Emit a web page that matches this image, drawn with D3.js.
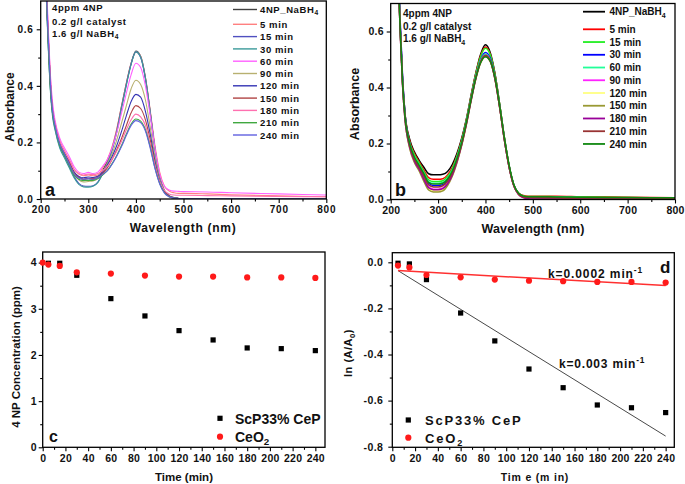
<!DOCTYPE html>
<html><head><meta charset="utf-8">
<script src="https://cdn.jsdelivr.net/npm/d3@7"></script>
<style>
body{margin:0;background:#fff}
svg{display:block}
text{font-family:"Liberation Sans",Arial,sans-serif;font-weight:bold;fill:#111}
</style></head>
<body><svg id="c" width="685" height="484"></svg>
<script>
// ---------- DATA ----------
const WL = [205,210,215,220,225,230,240,250,260,270,280,290,300,310,320,330,340,350,360,370,380,390,400,410,420,430,440,450,460,470,480,490,500,550,600,700,800];
const seriesNames = ["4NP_NaBH4","5 min","15 min","30 min","60 min","90 min","120 min","150 min","180 min","210 min","240 min"];

// panel a absorbance
const A_4NP = [1.0,0.82,0.6,0.42,0.31,0.26,0.195,0.16,0.13,0.095, 0.078,0.07,0.072,0.07,0.074, 0.10,0.135,0.18,0.245,0.33,0.41,0.48,0.523,0.505,0.43,0.31,0.18,0.08,0.03,0.012,0.005,0.002, 0.001,0.001,0.001,0.001,0.001];
const A_5   = [1.0,0.84,0.62,0.43,0.32,0.27,0.205,0.17,0.14,0.105, 0.088,0.082,0.085,0.082,0.085, 0.11,0.14,0.185,0.25,0.33,0.41,0.48,0.52,0.505,0.43,0.315,0.19,0.095,0.045,0.028,0.022,0.02, 0.02,0.018,0.015,0.011,0.008];
const A_15  = [1.0,0.8,0.58,0.4,0.3,0.25,0.185,0.15,0.115,0.08, 0.055,0.046,0.045,0.047,0.06, 0.09,0.125,0.175,0.24,0.325,0.405,0.478,0.52,0.5,0.425,0.305,0.175,0.075,0.028,0.01,0.004,0.002, 0.001,0.001,0.001,0.001,0.001];
const A_30  = [0.98,0.79,0.57,0.39,0.29,0.245,0.18,0.145,0.11,0.075, 0.052,0.043,0.042,0.045,0.058, 0.088,0.123,0.172,0.238,0.322,0.403,0.476,0.52,0.502,0.427,0.307,0.177,0.076,0.028,0.01,0.004,0.002, 0.001,0.001,0.001,0.001,0.001];
const A_60  = [1.0,0.86,0.64,0.45,0.34,0.28,0.215,0.18,0.15,0.115, 0.095,0.09,0.094,0.09,0.095, 0.115,0.14,0.18,0.235,0.305,0.375,0.44,0.48,0.465,0.4,0.295,0.18,0.09,0.045,0.032,0.028,0.027, 0.026,0.025,0.022,0.018,0.014];
const A_90  = [1.0,0.82,0.6,0.42,0.31,0.26,0.195,0.16,0.125,0.09, 0.068,0.06,0.062,0.064,0.072, 0.095,0.125,0.16,0.21,0.27,0.33,0.39,0.42,0.405,0.35,0.255,0.15,0.07,0.028,0.01,0.004,0.002, 0.001,0.001,0.001,0.001,0.001];
const A_120 = [1.0,0.82,0.6,0.42,0.31,0.26,0.195,0.16,0.13,0.095, 0.08,0.075,0.078,0.076,0.08, 0.095,0.12,0.15,0.19,0.24,0.295,0.345,0.37,0.36,0.31,0.23,0.135,0.065,0.026,0.01,0.004,0.002, 0.001,0.001,0.001,0.001,0.001];
const A_150 = [1.0,0.82,0.6,0.42,0.31,0.26,0.195,0.16,0.13,0.093, 0.076,0.07,0.073,0.072,0.076, 0.09,0.11,0.14,0.175,0.215,0.26,0.305,0.33,0.32,0.28,0.21,0.125,0.06,0.025,0.01,0.004,0.002, 0.001,0.001,0.001,0.001,0.001];
const A_180 = [1.0,0.84,0.62,0.44,0.32,0.27,0.205,0.17,0.14,0.105, 0.09,0.085,0.088,0.086,0.09, 0.1,0.115,0.14,0.17,0.205,0.245,0.28,0.3,0.29,0.26,0.195,0.12,0.062,0.03,0.018,0.014,0.013, 0.013,0.012,0.011,0.009,0.008];
const A_210 = [0.98,0.8,0.58,0.4,0.3,0.255,0.19,0.155,0.12,0.085, 0.07,0.065,0.066,0.066,0.072, 0.085,0.1,0.125,0.155,0.19,0.23,0.265,0.283,0.275,0.245,0.185,0.11,0.055,0.022,0.008,0.003,0.002, 0.001,0.001,0.001,0.001,0.001];
const A_240 = [1.0,0.82,0.6,0.42,0.31,0.26,0.195,0.16,0.125,0.09, 0.074,0.07,0.072,0.07,0.075, 0.087,0.1,0.123,0.152,0.186,0.225,0.26,0.277,0.27,0.24,0.18,0.108,0.053,0.021,0.008,0.003,0.002, 0.001,0.001,0.001,0.001,0.001];

// panel b absorbance
const B_4NP = [1.2,1.0,0.85,0.62,0.43,0.31,0.215,0.17,0.14,0.115, 0.092,0.088,0.088,0.09,0.1, 0.125,0.165,0.22,0.29,0.375,0.455,0.52,0.553,0.525,0.45,0.34,0.22,0.12,0.05,0.022,0.012,0.01, 0.01,0.009,0.008,0.006,0.005];
const B_5   = [1.2,1.0,0.85,0.62,0.43,0.31,0.21,0.165,0.135,0.105, 0.078,0.072,0.072,0.074,0.088, 0.115,0.158,0.215,0.287,0.372,0.452,0.515,0.545,0.52,0.447,0.338,0.218,0.118,0.05,0.022,0.014,0.012, 0.012,0.012,0.01,0.008,0.006];
const B_15  = [1.2,1.0,0.85,0.61,0.42,0.305,0.205,0.16,0.13,0.1, 0.07,0.064,0.064,0.067,0.082, 0.11,0.155,0.212,0.285,0.37,0.45,0.512,0.54,0.518,0.447,0.34,0.22,0.12,0.052,0.022,0.013,0.011, 0.011,0.01,0.009,0.007,0.006];
const B_30  = [1.2,1.0,0.87,0.64,0.44,0.31,0.2,0.15,0.12,0.09, 0.058,0.05,0.05,0.053,0.07, 0.1,0.147,0.205,0.278,0.362,0.44,0.5,0.525,0.505,0.437,0.333,0.215,0.117,0.05,0.02,0.01,0.008, 0.008,0.007,0.006,0.005,0.004];
const B_60  = [1.2,1.0,0.85,0.61,0.42,0.3,0.2,0.155,0.125,0.095, 0.064,0.058,0.058,0.061,0.076, 0.105,0.15,0.207,0.28,0.364,0.442,0.498,0.52,0.5,0.435,0.332,0.215,0.117,0.05,0.021,0.011,0.009, 0.009,0.008,0.007,0.006,0.005];
const B_90  = [1.2,1.0,0.84,0.6,0.41,0.29,0.19,0.14,0.11,0.075, 0.045,0.037,0.037,0.041,0.058, 0.09,0.138,0.198,0.272,0.358,0.437,0.493,0.515,0.497,0.432,0.33,0.213,0.115,0.048,0.018,0.007,0.004, 0.003,0.003,0.002,0.002,0.002];
const B_120 = [1.2,1.0,0.84,0.6,0.41,0.29,0.185,0.135,0.105,0.068, 0.038,0.03,0.03,0.034,0.052, 0.085,0.134,0.195,0.27,0.355,0.433,0.489,0.51,0.493,0.43,0.328,0.212,0.115,0.048,0.018,0.008,0.006, 0.006,0.006,0.005,0.004,0.004];
const B_150 = [1.2,1.0,0.84,0.6,0.41,0.29,0.183,0.132,0.102,0.065, 0.034,0.027,0.027,0.031,0.05, 0.083,0.132,0.194,0.27,0.355,0.433,0.489,0.51,0.493,0.43,0.328,0.212,0.115,0.048,0.018,0.008,0.005, 0.005,0.005,0.004,0.004,0.003];
const B_180 = [1.2,1.0,0.84,0.6,0.41,0.29,0.188,0.138,0.108,0.072, 0.042,0.035,0.035,0.039,0.056, 0.088,0.136,0.197,0.272,0.357,0.435,0.491,0.512,0.495,0.431,0.329,0.212,0.115,0.048,0.018,0.007,0.003, 0.002,0.002,0.002,0.002,0.002];
const B_210 = [1.2,1.0,0.85,0.61,0.42,0.3,0.195,0.145,0.115,0.083, 0.052,0.045,0.045,0.049,0.065, 0.096,0.142,0.2,0.275,0.36,0.438,0.494,0.515,0.497,0.433,0.33,0.213,0.116,0.049,0.02,0.009,0.007, 0.007,0.006,0.005,0.005,0.004];
const B_240 = [1.2,1.0,0.85,0.61,0.42,0.3,0.2,0.152,0.122,0.092, 0.061,0.055,0.055,0.058,0.073, 0.102,0.147,0.204,0.277,0.36,0.437,0.49,0.51,0.495,0.435,0.335,0.22,0.122,0.053,0.022,0.012,0.01, 0.01,0.009,0.008,0.007,0.006];

const colorsA = ["#404040","#ff8080","#5050c0","#3a9a9a","#ff60ff","#b8b070","#3434b4","#b04444","#ff70b0","#40a840","#6060e0"];
const colorsB = ["#000000","#ff0000","#22ee22","#0000ff","#22ff99","#ff22ff","#ffff80","#999933","#990099","#993333","#118811"];

const wlTicks = [200,300,400,500,600,700,800];
const absTicks = [0.0,0.2,0.4,0.6];

// panel c: concentration (ppm)
const timeSc = [5,15,30,60,90,120,150,180,210,240];
const concSc = [3.986,3.986,3.726,3.22,2.845,2.527,2.325,2.152,2.137,2.094];
const timeCe = [0,5,15,30,60,90,120,150,180,210,240];
const concCe = [4.0,3.957,3.928,3.79,3.762,3.72,3.697,3.697,3.68,3.68,3.668];
const timeTicks = [0,20,40,60,80,100,120,140,160,180,200,220,240];
const concTicks = [0,1,2,3,4];

// panel d: ln(A/A0)
const timeD = [5,15,30,60,90,120,150,180,210,240];
const lnSc = [-0.004,-0.007,-0.075,-0.22,-0.341,-0.463,-0.544,-0.619,-0.631,-0.652];
const lnCe = [-0.014,-0.022,-0.055,-0.065,-0.075,-0.08,-0.082,-0.085,-0.085,-0.088];
const fitT = [5,240];
const fitSc = [-0.036,-0.754];
const fitCe = [-0.036,-0.101];
const lnTicks = [0.0,-0.2,-0.4,-0.6,-0.8];

// ---------- DRAW ----------
const svg = d3.select("#c");

function styleAxis(sel, fs, ls){
  sel.select(".domain").remove();
  sel.selectAll("line").attr("stroke","#000").attr("stroke-width",1.1);
  sel.selectAll("text").attr("font-size",fs).attr("letter-spacing",ls).attr("fill","#111")
     .attr("font-family","'Liberation Sans',Arial,sans-serif").attr("font-weight","bold");
}

function richText(g, x, y, parts, opt){
  const t = g.append("text").attr("x",x).attr("y",y)
    .attr("font-size",opt.fs).attr("letter-spacing",opt.ls||0)
    .attr("fill",opt.fill||"#111");
  if(opt.anchor) t.attr("text-anchor",opt.anchor);
  if(opt.rotate) t.attr("transform",`rotate(-90,${x},${y})`);
  parts.forEach(p=>{
    const [s,kind] = Array.isArray(p)?p:[p,null];
    const ts = t.append("tspan").text(s);
    if(kind==="sub") ts.attr("font-size",opt.fs*0.7).attr("dy",opt.fs*0.25);
    else if(kind==="sup") ts.attr("font-size",opt.fs*0.7).attr("dy",-opt.fs*0.4);
    else if(kind==="back") ts.attr("dy",-opt.fs*0.25);
    else if(kind==="backsup") ts.attr("dy",opt.fs*0.4);
  });
  return t;
}

function spectra(o){
  const g = svg.append("g");
  const x = d3.scaleLinear().domain([200,800]).range([o.x0,o.x1]);
  const y = d3.scaleLinear().domain([0,0.7]).range([o.y0,o.y1]);
  g.append("clipPath").attr("id",o.id).append("rect")
    .attr("x",o.x0).attr("y",o.y1).attr("width",o.x1-o.x0).attr("height",o.y0-o.y1);
  const line = d3.line().x((d,i)=>x(WL[i])).y(d=>y(d)).curve(d3.curveMonotoneX);
  const pg = g.append("g").attr("clip-path",`url(#${o.id})`);
  o.series.forEach((s,i)=>{
    pg.append("path").attr("d",line(s)).attr("fill","none")
      .attr("stroke",o.colors[i]).attr("stroke-width",o.lw);
  });
  // axes
  const xa = g.append("g").attr("transform",`translate(0,${o.y0})`)
    .call(d3.axisBottom(x).tickValues(wlTicks).tickSize(4).tickPadding(3).tickFormat(d3.format("d")));
  styleAxis(xa,o.tfs,o.tls);
  const xm = g.append("g").attr("transform",`translate(0,${o.y0})`)
    .call(d3.axisBottom(x).tickValues([250,350,450,550,650,750]).tickSize(2.5).tickFormat(""));
  styleAxis(xm,o.tfs,0);
  const ya = g.append("g").attr("transform",`translate(${o.x0},0)`)
    .call(d3.axisLeft(y).tickValues(absTicks).tickSize(4).tickPadding(3).tickFormat(d3.format(".1f")));
  styleAxis(ya,o.tfs,o.tls);
  const ym = g.append("g").attr("transform",`translate(${o.x0},0)`)
    .call(d3.axisLeft(y).tickValues([0.1,0.3,0.5]).tickSize(2.5).tickFormat(""));
  styleAxis(ym,o.tfs,0);
  g.append("rect").attr("x",o.x0).attr("y",o.y1).attr("width",o.x1-o.x0).attr("height",o.y0-o.y1)
    .attr("fill","none").attr("stroke","#000").attr("stroke-width",1.3);
  // legend
  seriesNames.forEach((n,i)=>{
    const ly = i===0 ? o.leg.y0 : o.leg.y1 + (i-1)*o.leg.dy;
    g.append("line").attr("x1",o.leg.lx0).attr("x2",o.leg.lx1).attr("y1",ly).attr("y2",ly)
      .attr("stroke",o.colors[i]).attr("stroke-width",o.lw+0.3);
    const parts = i===0 ? ["4NP_NaBH",["4","sub"]] : [n];
    richText(g,o.leg.tx,ly+3.6,parts,{fs:o.lfs,ls:o.lls});
  });
  // annotation
  richText(g,o.ann.x,o.ann.y[0],["4ppm 4NP"],{fs:o.lfs,ls:o.lls});
  richText(g,o.ann.x,o.ann.y[1],["0.2 g/l catalyst"],{fs:o.lfs,ls:o.lls});
  richText(g,o.ann.x,o.ann.y[2],["1.6 g/l NaBH",["4","sub"]],{fs:o.lfs,ls:o.lls});
  // titles
  richText(g,o.yt.x,o.yt.y,["Absorbance"],{fs:o.afs,anchor:"middle",rotate:true});
  richText(g,o.xt.x,o.xt.y,["Wavelength (nm)"],{fs:o.afs,anchor:"middle",ls:o.als});
  richText(g,o.lab.x,o.lab.y,[o.lab.t],{fs:18});
}

spectra({id:"clipA",x0:40.7,x1:326.3,y0:199,y1:1,series:[A_4NP,A_5,A_15,A_30,A_60,A_90,A_120,A_150,A_180,A_210,A_240],
  colors:colorsA,lw:1.1,tfs:10,tls:0.8,lfs:9.5,lls:0.6,afs:12,als:0.7,
  leg:{y0:9.5,y1:24.3,dy:12.3,lx0:233,lx1:257,tx:260},
  ann:{x:52,y:[11,24.5,37]},
  yt:{x:14,y:107},xt:{x:183,y:232},lab:{x:45,y:196,t:"a"}});

spectra({id:"clipB",x0:390.7,x1:675,y0:199.5,y1:3.5,series:[B_4NP,B_5,B_15,B_30,B_60,B_90,B_120,B_150,B_180,B_210,B_240],
  colors:colorsB,lw:1.5,tfs:10.5,tls:0.2,lfs:10,lls:0,afs:12.5,als:0.2,
  leg:{y0:11.7,y1:29.3,dy:12.74,lx0:583,lx1:605,tx:609.5},
  ann:{x:403,y:[17,29.5,42]},
  yt:{x:359,y:104},xt:{x:533,y:233},lab:{x:395,y:196,t:"b"}});

// ----- panel c -----
(function(){
  const g = svg.append("g");
  const x0=42.7,x1=325,y0=447.3,y1=252;
  const x = d3.scaleLinear().domain([0,248.5]).range([x0,x1]);
  const y = d3.scaleLinear().domain([0,4.23]).range([y0,y1]);
  const xa = g.append("g").attr("transform",`translate(0,${y0})`)
    .call(d3.axisBottom(x).tickValues(timeTicks).tickSize(4).tickPadding(3).tickFormat(d3.format("d")));
  styleAxis(xa,10.5,0.2);
  const xm = g.append("g").attr("transform",`translate(0,${y0})`)
    .call(d3.axisBottom(x).tickValues(d3.range(10,250,20)).tickSize(2.5).tickFormat(""));
  styleAxis(xm,10,0);
  const ya = g.append("g").attr("transform",`translate(${x0},0)`)
    .call(d3.axisLeft(y).tickValues(concTicks).tickSize(4).tickPadding(2).tickFormat(d3.format("d")));
  styleAxis(ya,10.5,0);
  const ym = g.append("g").attr("transform",`translate(${x0},0)`)
    .call(d3.axisLeft(y).tickValues([0.5,1.5,2.5,3.5]).tickSize(2.5).tickFormat(""));
  styleAxis(ym,10,0);
  g.append("rect").attr("x",x0).attr("y",y1).attr("width",x1-x0).attr("height",y0-y1)
    .attr("fill","none").attr("stroke","#000").attr("stroke-width",1.3);
  g.selectAll(".sq").data(timeSc).enter().append("rect")
    .attr("x",(d)=>x(d)-2.6).attr("y",(d,i)=>y(concSc[i])-2.6).attr("width",5.2).attr("height",5.2).attr("fill","#000");
  g.selectAll(".ci").data(timeCe).enter().append("circle")
    .attr("cx",d=>x(d)).attr("cy",(d,i)=>y(concCe[i])).attr("r",3.1).attr("fill","#ff1a1a");
  // legend
  g.append("rect").attr("x",217.4).attr("y",415.7).attr("width",5.2).attr("height",5.2).attr("fill","#000");
  g.append("circle").attr("cx",220).attr("cy",436.7).attr("r",3.1).attr("fill","#ff1a1a");
  richText(g,235,423.5,["ScP33% CeP"],{fs:14});
  richText(g,235,441.5,["CeO",["2","sub"]],{fs:14});
  richText(g,20,357,["4 NP Concentration (ppm)"],{fs:11.5,anchor:"middle",rotate:true});
  richText(g,184,481,["Time (min)"],{fs:11.5,anchor:"middle"});
  richText(g,49,441.5,["c"],{fs:16});
})();

// ----- panel d -----
(function(){
  const g = svg.append("g");
  const x0=392.3,x1=674.3,y0=447.3,y1=252.7;
  const x = d3.scaleLinear().domain([0,247.6]).range([x0,x1]);
  const y = d3.scaleLinear().domain([-0.8026,0.0417]).range([y0,y1]);
  const xa = g.append("g").attr("transform",`translate(0,${y0})`)
    .call(d3.axisBottom(x).tickValues(timeTicks).tickSize(4).tickPadding(3).tickFormat(d3.format("d")));
  styleAxis(xa,10.5,0.2);
  const xm = g.append("g").attr("transform",`translate(0,${y0})`)
    .call(d3.axisBottom(x).tickValues(d3.range(10,250,20)).tickSize(2.5).tickFormat(""));
  styleAxis(xm,10,0);
  const ya = g.append("g").attr("transform",`translate(${x0},0)`)
    .call(d3.axisLeft(y).tickValues(lnTicks).tickSize(4).tickPadding(5).tickFormat(d3.format(".1f")));
  styleAxis(ya,10.5,0.4);
  ya.selectAll("text").text(d=>d3.format(".1f")(d).replace("−","-"));
  const ym = g.append("g").attr("transform",`translate(${x0},0)`)
    .call(d3.axisLeft(y).tickValues([-0.1,-0.3,-0.5,-0.7]).tickSize(2.5).tickFormat(""));
  styleAxis(ym,10,0);
  g.append("rect").attr("x",x0).attr("y",y1).attr("width",x1-x0).attr("height",y0-y1)
    .attr("fill","none").attr("stroke","#000").attr("stroke-width",1.3);
  const ln = d3.line().x((d,i)=>x(fitT[i])).y(d=>y(d));
  g.append("path").attr("d",ln(fitSc)).attr("stroke","#333").attr("stroke-width",0.9).attr("fill","none");
  g.append("path").attr("d",ln(fitCe)).attr("stroke","#ff3030").attr("stroke-width",1.5).attr("fill","none");
  g.selectAll(".sq").data(timeD).enter().append("rect")
    .attr("x",(d)=>x(d)-2.6).attr("y",(d,i)=>y(lnSc[i])-2.6).attr("width",5.2).attr("height",5.2).attr("fill","#000");
  g.selectAll(".ci").data(timeD).enter().append("circle")
    .attr("cx",d=>x(d)).attr("cy",(d,i)=>y(lnCe[i])).attr("r",3.1).attr("fill","#ff1a1a");
  richText(g,548,277.5,["k=0.0002 min",["-1","sup"]],{fs:12,ls:0.9,fill:"#ff2020"});
  richText(g,559,367.5,["k=0.003 min",["-1","sup"]],{fs:12,ls:0.8});
  // legend
  g.append("rect").attr("x",405.7).attr("y",417.4).attr("width",5.2).attr("height",5.2).attr("fill","#000");
  g.append("circle").attr("cx",408.3).attr("cy",437.7).attr("r",3.1).attr("fill","#ff1a1a");
  richText(g,425,424.5,["ScP33% CeP"],{fs:13,ls:1.8});
  richText(g,425,443,["CeO",["2","sub"]],{fs:13,ls:1.8});
  richText(g,352,353,["ln (A/A",["0","sub"],[")","back"]],{fs:11,anchor:"middle",rotate:true,ls:0.5});
  richText(g,535,481,["Tim e (m in)"],{fs:10.5,anchor:"middle",ls:0.8});
  richText(g,660,273,["d"],{fs:17});
})();
</script></body></html>
